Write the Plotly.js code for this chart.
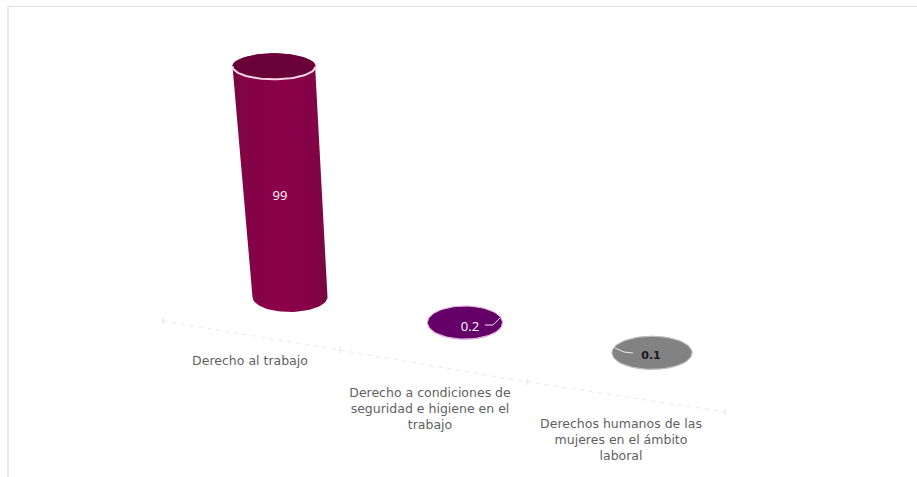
<!DOCTYPE html>
<html>
<head>
<meta charset="utf-8">
<script src="https://cdn.plot.ly/plotly-3.0.1.min.js"></script>
<style>html,body{margin:0;padding:0;background:#fff}#c{width:917px;height:477px}</style>
</head>
<body>
<div id="c"></div>
<script>
// Data
const categories = ["Derecho al trabajo", "Derecho a condiciones de<br>seguridad e higiene en el<br>trabajo", "Derechos humanos de las<br>mujeres en el ámbito<br>laboral"];
const values = [99, 0.2, 0.1];
const valueLabels = ["99", "0.2", "0.1"];

// Layout of the faux-3D scene (axes are hidden and map 1:1 to the page horizontally)
const W = 917, H = 477;
const PX_PER_VALUE = 2.33, ZERO_PX = 297;
const toV = px => (ZERO_PX - px) / PX_PER_VALUE;
const baseX = [290, 465, 652], baseY = [297, 323, 353];
const radX = [37.5, 37.5, 40], radY = [15, 16.5, 16.5];
const TILT = -16 / 99, GROW = 4 / 99, TOP_RY = -2 / 99;
const bodyScales = [
  [[0,'#74083f'],[0.1,'#820446'],[0.55,'#8c004a'],[0.9,'#820446'],[1,'#74083f']],
  [[0,'#5a0a60'],[0.5,'#6a0070'],[1,'#5a0a60']],
  [[0,'#7a7a7a'],[0.5,'#858585'],[1,'#7a7a7a']]
];
const topColors = ['#6a0038', '#650068', '#828282'];
const rimColors = ['#f6d6e4', '#e9bfe6', '#c4c4c4'];
const valueFonts = [
  {color:'#ffffff', size:13, family:'Open Sans, sans-serif'},
  {color:'#ffffff', size:13, family:'Open Sans, sans-serif'},
  {color:'#1a1a1a', size:11, family:'DejaVu Sans, sans-serif', weight:700}
];
const labelPx = [[280,197],[470,328],[651,356]];
const catLabelPx = [[250,362],[430,410],[621,441]];
const axisPx = [[163,321],[340,350],[527,382],[725,412]];
const leaders = [null, [[485,325],[493,325],[500,318]], [[615,348],[624,352],[633,353]]];

function arc(cx, cy, rx, ry, a0, a1, n) {
  const xs = [], ys = [];
  for (let i = 0; i <= n; i++) {
    const a = a0 + (a1 - a0) * i / n;
    xs.push(cx + rx * Math.cos(a));
    ys.push(cy + ry * Math.sin(a));   // px coordinates, y down
  }
  return [xs, ys];
}
const traces = [];
const vy = a => a.map(toV);

// Category axis (dashed faint line and ticks)
traces.push({type:'scatter', mode:'lines', x:axisPx.map(p=>p[0]), y:axisPx.map(p=>toV(p[1])),
  line:{color:'#e8e8e8', width:1, dash:'4px 5px'}, hoverinfo:'skip', showlegend:false});
axisPx.forEach(p => traces.push({type:'scatter', mode:'lines', x:[p[0],p[0]], y:[toV(p[1]-3),toV(p[1]+3)],
  line:{color:'#e0e0e0', width:1}, hoverinfo:'skip', showlegend:false}));

// Cylinders
values.forEach((v, i) => {
  const h = v * PX_PER_VALUE;
  const tx = baseX[i] + TILT * v, ty = baseY[i] - h;
  const trx = radX[i] + GROW * v, tryy = radY[i] + TOP_RY * v;
  const low = arc(baseX[i], baseY[i], radX[i], radY[i], Math.PI, 0, 40);
  const up = arc(tx, ty, trx, tryy, 0, -Math.PI, 40);
  traces.push({type:'scatter', mode:'lines', x:low[0].concat(up[0]), y:vy(low[1].concat(up[1])),
    fill:'toself', fillgradient:{type:'horizontal', colorscale:bodyScales[i]},
    line:{width: i === 0 ? 0 : 1, color:rimColors[i]}, hoverinfo:'skip', showlegend:false});
  const topE = arc(tx, ty, trx, tryy, 0, 2 * Math.PI, 80);
  traces.push({type:'scatter', mode:'lines', x:topE[0], y:vy(topE[1]), fill:'toself', fillcolor:topColors[i],
    line:{width: i === 0 ? 0 : 1, color:rimColors[i]}, hoverinfo:'skip', showlegend:false});
  if (i === 0) {
    const rim = arc(tx, ty, trx, tryy, Math.PI, 0, 40);
    traces.push({type:'scatter', mode:'lines', x:rim[0], y:vy(rim[1]),
      line:{width:2, color:rimColors[i]}, hoverinfo:'skip', showlegend:false});
  }
  if (leaders[i]) traces.push({type:'scatter', mode:'lines', x:leaders[i].map(p=>p[0]), y:leaders[i].map(p=>toV(p[1])),
    line:{width:1, color:'#eeeeee'}, hoverinfo:'skip', showlegend:false});
});

// Value labels
valueLabels.forEach((t, i) => traces.push({type:'scatter', mode:'text', x:[labelPx[i][0]], y:[toV(labelPx[i][1])],
  text:[t], textposition:'middle center', textfont:valueFonts[i], hoverinfo:'skip', showlegend:false}));

// Category labels
traces.push({type:'scatter', mode:'text', x:catLabelPx.map(p=>p[0]), y:catLabelPx.map(p=>toV(p[1])),
  text:categories, textposition:'middle center',
  textfont:{family:'DejaVu Sans, sans-serif', size:12.5, color:'#5f5f5f'}, hoverinfo:'skip', showlegend:false});

const layout = {
  width:W, height:H, margin:{l:0,r:0,t:0,b:0}, paper_bgcolor:'#fff', plot_bgcolor:'#fff', showlegend:false,
  xaxis:{range:[0,W], visible:false, fixedrange:true},
  yaxis:{range:[toV(H),toV(0)], visible:false, fixedrange:true},
  shapes:[
    {type:'line', xref:'paper', yref:'paper', x0:8/W, x1:1, y0:1-6.5/H, y1:1-6.5/H, line:{color:'#e2e2e2', width:1}},
    {type:'line', xref:'paper', yref:'paper', x0:8/W, x1:8/W, y0:1-6.5/H, y1:0, line:{color:'#e2e2e2', width:1.5}}
  ]
};
Plotly.newPlot('c', traces, layout, {displayModeBar:false, responsive:false});
</script>
</body>
</html>
